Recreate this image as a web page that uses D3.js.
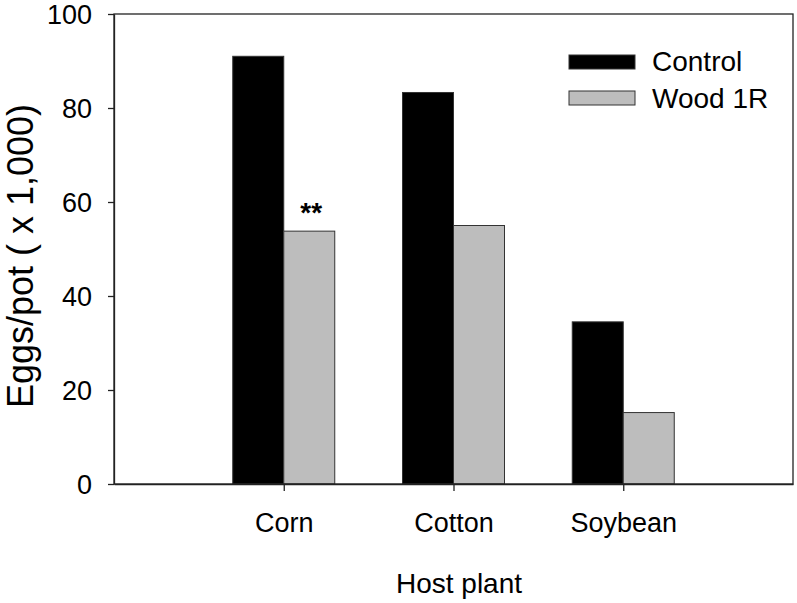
<!DOCTYPE html>
<html><head><meta charset="utf-8">
<script src="https://cdn.jsdelivr.net/npm/d3@7"></script>
<style>body{margin:0;background:#fff}svg{display:block}text{font-family:"Liberation Sans",Arial,sans-serif}</style>
</head><body><svg id="c" width="797" height="603"></svg>
<script>
const categories = ["Corn", "Cotton", "Soybean"];
const seriesNames = ["Control", "Wood 1R"];
const control = [91.0, 83.3, 34.5];
const wood1R = [53.8, 55.0, 15.2];
const yTicks = [0, 20, 40, 60, 80, 100];
const annotations = [{cat: "Corn", series: 1, text: "**"}];

(function () {
const colors = ["#000000", "#bdbdbd"];
const svg = d3.select("#c");
const mLeft = 114, mRight = 793, mTop = 14, mBottom = 484;
const x = d3.scaleLinear().domain([0, 4]).range([mLeft, mRight]);
const y = d3.scaleLinear().domain([0, 100]).range([mBottom, mTop]);
const barW = 51;
const series = [control, wood1R];
const FF = "Liberation Sans, Arial, sans-serif";

series.forEach((vals, si) => {
  svg.append("g").selectAll("rect").data(vals).join("rect")
    .attr("x", (d, i) => x(i + 1) + (si === 0 ? -barW : 0))
    .attr("y", d => y(d))
    .attr("width", barW)
    .attr("height", d => y(0) - y(d))
    .attr("fill", colors[si])
    .attr("stroke", "#333").attr("stroke-width", 1);
});

svg.append("rect").attr("x", mLeft).attr("y", mTop).attr("width", mRight - mLeft).attr("height", mBottom - mTop)
  .attr("fill", "none").attr("stroke", "#222").attr("stroke-width", 1.3);

const yAxis = d3.axisLeft(y).tickValues(yTicks).tickSize(6).tickPadding(16).tickSizeOuter(0);
const gy = svg.append("g").attr("transform", `translate(${mLeft},0)`).call(yAxis);
gy.selectAll("text").attr("font-size", 27).attr("fill", "#000").attr("font-family", FF).attr("dy", "0.36em");
gy.select(".domain").attr("stroke", "#222").attr("stroke-width", 1.3);
gy.selectAll(".tick line").attr("stroke", "#222").attr("stroke-width", 1.3);

const xAxis = d3.axisBottom(x).tickValues([1, 2, 3]).tickFormat(d => categories[d - 1]).tickSize(7).tickPadding(22).tickSizeOuter(0);
const gx = svg.append("g").attr("transform", `translate(0,${mBottom})`).call(xAxis);
gx.selectAll("text").attr("font-size", 27).attr("fill", "#000").attr("font-family", FF);
gx.select(".domain").attr("stroke", "#222").attr("stroke-width", 1.3);
gx.selectAll(".tick line").attr("stroke", "#222").attr("stroke-width", 1.3);

annotations.forEach(a => {
  const i = categories.indexOf(a.cat);
  const v = series[a.series][i];
  svg.append("text").attr("x", x(i + 1) + (a.series === 0 ? -barW / 2 : barW / 2) + 2)
    .attr("y", y(v) - 9).attr("text-anchor", "middle")
    .attr("font-size", 28).attr("font-weight", "bold").text(a.text);
});

svg.append("text").attr("x", 459).attr("y", 593).attr("text-anchor", "middle").attr("font-size", 28).text("Host plant");
svg.append("text").attr("transform", "translate(33,256) rotate(-90)").attr("text-anchor", "middle").attr("font-size", 36).text("Eggs/pot ( x 1,000)");

const lg = svg.append("g");
seriesNames.forEach((n, i) => {
  lg.append("rect").attr("x", 569).attr("y", 55 + i * 36).attr("width", 66).attr("height", 14)
    .attr("fill", colors[i]).attr("stroke", "#333").attr("stroke-width", 1);
  lg.append("text").attr("x", 652).attr("y", 71 + i * 37).attr("font-size", 28).text(n);
});
})();
</script></body></html>
